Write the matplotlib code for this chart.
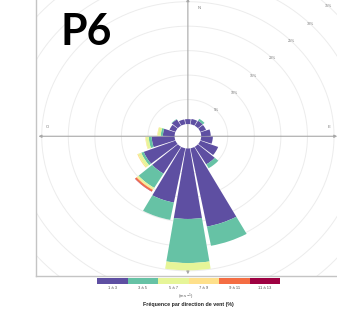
import numpy as np
import matplotlib
matplotlib.use("Agg")
import matplotlib.pyplot as plt
from matplotlib.patches import Wedge

# ---- data -------------------------------------------------------------
directions = [0, 20, 40, 60, 80, 100, 120, 140, 160, 180, 200, 220, 240, 260, 280, 300, 320, 340]
speed_labels = ["1 à 3", "3 à 5", "5 à 7", "7 à 9", "9 à 11", "11 à 13"]
freq_1_3   = [1.0, 1.1, 1.2, 1.15, 1.8, 2.2, 3.6, 4.2, 16.3, 14.4, 11.3, 6.4, 6.4, 4.3, 2.2, 1.2, 1.5, 1.0]
freq_3_5   = [0.0, 0.0, 0.45, 0.0, 0.0, 0.0, 0.0, 0.9, 4.0, 9.0, 3.6, 3.4, 0.5, 0.55, 0.4, 0.0, 0.1, 0.0]
freq_5_7   = [0.0, 0.0, 0.0, 0.0, 0.0, 0.0, 0.0, 0.0, 0.0, 1.5, 0.0, 0.3, 0.6, 0.55, 0.55, 0.0, 0.0, 0.0]
freq_7_9   = [0.0, 0.0, 0.0, 0.0, 0.0, 0.0, 0.0, 0.0, 0.0, 0.0, 0.0, 0.2, 0.2, 0.1, 0.1, 0.0, 0.0, 0.0]
freq_9_11  = [0.0, 0.0, 0.0, 0.0, 0.0, 0.0, 0.0, 0.0, 0.0, 0.0, 0.0, 0.35, 0.0, 0.0, 0.0, 0.0, 0.0, 0.0]
freq_11_13 = [0.0, 0.0, 0.0, 0.0, 0.0, 0.0, 0.0, 0.0, 0.0, 0.0, 0.0, 0.06, 0.0, 0.0, 0.0, 0.0, 0.0, 0.0]
ring_pct = [5, 10, 15, 20, 25, 30, 35]
cardinals = ["N", "E", "S", "O"]

colors = ["#5E4FA2", "#66C2A5", "#E6F598", "#FEE08B", "#F46D43", "#9E0142"]
series = [freq_1_3, freq_3_5, freq_5_7, freq_7_9, freq_9_11, freq_11_13]

sector = 20.0
seg = 0.9
hole = 2.5
lim = 28.5

plt.rcParams['font.family'] = ['Liberation Sans', 'DejaVu Sans']

fig = plt.figure(figsize=(3.37, 3.21), dpi=100)
fig.patch.set_facecolor("white")
ax = fig.add_axes([0.108, 0.141, 0.899, 0.869])
ax.set_xlim(-lim, lim)
ax.set_ylim(-lim, lim)
ax.set_aspect("auto")
ax.set_xticks([])
ax.set_yticks([])
for s in ["top", "right"]:
    ax.spines[s].set_visible(False)
for s in ["left", "bottom"]:
    ax.spines[s].set_color("#c4c4c4")
    ax.spines[s].set_linewidth(1.0)

# rings
t = np.linspace(0, 2 * np.pi, 400)
for p in ring_pct:
    r = hole + p
    ax.plot(r * np.cos(t), r * np.sin(t), color="#ececec", lw=0.7, zorder=1)
    a = np.deg2rad(45)
    ax.text(r * np.cos(a), r * np.sin(a), f"{p}%", fontsize=2.6, color="#777777",
            ha="center", va="center", zorder=2)

# cross lines
ax.annotate("", xy=(-lim + 0.4, 0), xytext=(lim - 0.4, 0),
            arrowprops=dict(arrowstyle="<|-|>", color="#a8a8a8", lw=0.8,
                            mutation_scale=4, shrinkA=0, shrinkB=0), zorder=2)
ax.annotate("", xy=(0, lim - 0.3), xytext=(0, -lim + 0.3),
            arrowprops=dict(arrowstyle="<|-|>", color="#a8a8a8", lw=0.8,
                            mutation_scale=4, shrinkA=0, shrinkB=0), zorder=2)

# cardinal labels
card_pos = {"N": (2.1, 26.3), "E": (26.5, 1.8), "S": (2.1, -26.3), "O": (-26.5, 1.8)}
for c in cardinals:
    x, y = card_pos[c]
    ax.text(x, y, c, fontsize=3, color="#777777", ha="center", va="center", zorder=2)

# wedges
for i, wd in enumerate(directions):
    base = hole
    for k, ser in enumerate(series):
        v = ser[i]
        if v <= 0:
            continue
        top = base + v
        th1 = 90 - wd - seg * sector / 2
        th2 = 90 - wd + seg * sector / 2
        w = Wedge((0, 0), top, th1, th2, width=v, facecolor=colors[k],
                  edgecolor="none", lw=0, zorder=3)
        ax.add_patch(w)
        base = top

# title
fig.text(60 / 337, 1 - 45 / 321, "P6", fontsize=31, fontweight="bold",
         family=["Lato", "DejaVu Sans"], ha="left", va="baseline", color="black")

# legend bar
lax = fig.add_axes([97 / 337, 1 - 283.5 / 321, 183 / 337, 5.5 / 321])
lax.bar(np.arange(len(speed_labels)), [1] * len(speed_labels), width=1.0,
        color=colors, edgecolor="none")
lax.set_xlim(-0.5, len(speed_labels) - 0.5)
lax.set_ylim(0, 1)
lax.set_yticks([])
lax.set_xticks(np.arange(len(speed_labels)))
lax.set_xticklabels(speed_labels, fontsize=3, color="#555555")
lax.tick_params(axis="x", length=0, pad=1.5)
for s in lax.spines.values():
    s.set_visible(False)

fig.text(186 / 337, 1 - 296.5 / 321, "(m s$^{-1}$)", fontsize=3, color="#555555",
         ha="center", va="center")
fig.text(188 / 337, 1 - 304.5 / 321, "Fréquence par direction de vent (%)", fontsize=3.8,
         color="#222222", ha="center", va="center", fontweight="bold")

fig.savefig("out.png", dpi=100, facecolor="white")
